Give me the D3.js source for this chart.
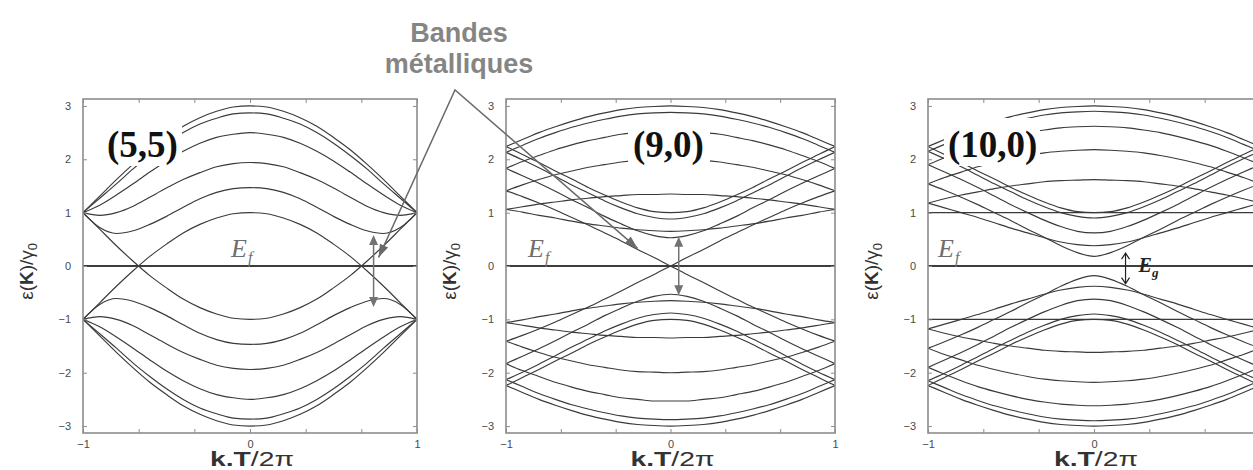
<!DOCTYPE html>
<html><head><meta charset="utf-8">
<script src="https://cdn.jsdelivr.net/npm/d3@7"></script>
<style>body{margin:0;background:#fff}svg{display:block}</style>
</head><body><svg id="c" width="1253" height="470"></svg>
<script>
// ---------- data ----------
const kGrid = [-1,-0.9,-0.8,-0.7,-0.6,-0.5,-0.4,-0.3,-0.2,-0.1,0,0.1,0.2,0.3,0.4,0.5,0.6,0.7,0.8,0.9,1];
const yTickValues = [-3,-2,-1,0,1,2,3];
const xTickValues = [-1,-0.6667,-0.3333,0,0.3333,0.6667,1];
const xLabelValues = [-1,0,1];
const panelTitles = ["(5,5)","(9,0)","(10,0)"];
const annotationText = ["Bandes","métalliques"];

// (5,5) armchair
const bands55Upper = [
 [1.00,1.31,1.62,1.91,2.18,2.41,2.62,2.78,2.90,2.98,3.00,2.98,2.90,2.78,2.62,2.41,2.18,1.91,1.62,1.31,1.00],
 [1.00,1.27,1.54,1.82,2.07,2.30,2.50,2.66,2.77,2.85,2.87,2.85,2.77,2.66,2.50,2.30,2.07,1.82,1.54,1.27,1.00],
 [1.00,1.14,1.33,1.54,1.76,1.97,2.15,2.30,2.41,2.47,2.50,2.47,2.41,2.30,2.15,1.97,1.76,1.54,1.33,1.14,1.00],
 [1.00,0.95,1.00,1.12,1.29,1.46,1.62,1.75,1.86,1.92,1.94,1.92,1.86,1.75,1.62,1.46,1.29,1.12,1.00,0.95,1.00],
 [1.00,0.72,0.61,0.66,0.78,0.93,1.10,1.26,1.38,1.45,1.47,1.45,1.38,1.26,1.10,0.93,0.78,0.66,0.61,0.72,1.00]
];
const bands55Lower = [
 [-1.00,-1.31,-1.62,-1.91,-2.18,-2.41,-2.62,-2.78,-2.90,-2.98,-3.00,-2.98,-2.90,-2.78,-2.62,-2.41,-2.18,-1.91,-1.62,-1.31,-1.00],
 [-1.00,-1.27,-1.54,-1.82,-2.07,-2.30,-2.50,-2.66,-2.77,-2.85,-2.87,-2.85,-2.77,-2.66,-2.50,-2.30,-2.07,-1.82,-1.54,-1.27,-1.00],
 [-1.00,-1.14,-1.33,-1.54,-1.76,-1.97,-2.15,-2.30,-2.41,-2.47,-2.50,-2.47,-2.41,-2.30,-2.15,-1.97,-1.76,-1.54,-1.33,-1.14,-1.00],
 [-1.00,-0.95,-1.00,-1.12,-1.29,-1.46,-1.62,-1.75,-1.86,-1.92,-1.94,-1.92,-1.86,-1.75,-1.62,-1.46,-1.29,-1.12,-1.00,-0.95,-1.00],
 [-1.00,-0.72,-0.61,-0.66,-0.78,-0.93,-1.10,-1.26,-1.38,-1.45,-1.47,-1.45,-1.38,-1.26,-1.10,-0.93,-0.78,-0.66,-0.61,-0.72,-1.00]
];
const bands55Crossing = [
 [1.00,0.69,0.38,0.09,-0.18,-0.41,-0.62,-0.78,-0.90,-0.98,-1.00,-0.98,-0.90,-0.78,-0.62,-0.41,-0.18,0.09,0.38,0.69,1.00],
 [-1.00,-0.69,-0.38,-0.09,0.18,0.41,0.62,0.78,0.90,0.98,1.00,0.98,0.90,0.78,0.62,0.41,0.18,-0.09,-0.38,-0.69,-1.00]
];

// (9,0) zigzag
const bands90Upper = [
 [2.24,2.37,2.50,2.61,2.71,2.80,2.87,2.93,2.97,2.99,3.00,2.99,2.97,2.93,2.87,2.80,2.71,2.61,2.50,2.37,2.24],
 [2.13,2.26,2.39,2.50,2.60,2.68,2.75,2.81,2.85,2.87,2.88,2.87,2.85,2.81,2.75,2.68,2.60,2.50,2.39,2.26,2.13],
 [1.83,1.96,2.07,2.18,2.27,2.35,2.41,2.47,2.50,2.53,2.53,2.53,2.50,2.47,2.41,2.35,2.27,2.18,2.07,1.96,1.83],
 [1.41,1.52,1.62,1.71,1.78,1.85,1.90,1.95,1.98,1.99,2.00,1.99,1.98,1.95,1.90,1.85,1.78,1.71,1.62,1.52,1.41],
 [1.06,1.11,1.16,1.20,1.24,1.27,1.30,1.32,1.34,1.34,1.35,1.34,1.34,1.32,1.30,1.27,1.24,1.20,1.16,1.11,1.06],
 [1.06,1.01,0.95,0.90,0.84,0.79,0.75,0.71,0.68,0.66,0.65,0.66,0.68,0.71,0.75,0.79,0.84,0.90,0.95,1.01,1.06],
 [1.83,1.69,1.55,1.40,1.24,1.09,0.93,0.79,0.66,0.57,0.53,0.57,0.66,0.79,0.93,1.09,1.24,1.40,1.55,1.69,1.83],
 [2.13,1.99,1.84,1.68,1.52,1.37,1.22,1.09,0.98,0.91,0.88,0.91,0.98,1.09,1.22,1.37,1.52,1.68,1.84,1.99,2.13],
 [2.24,2.09,1.94,1.78,1.63,1.47,1.33,1.20,1.09,1.02,1.00,1.02,1.09,1.20,1.33,1.47,1.63,1.78,1.94,2.09,2.24]
];
const bands90Lower = [
 [-2.24,-2.37,-2.50,-2.61,-2.71,-2.80,-2.87,-2.93,-2.97,-2.99,-3.00,-2.99,-2.97,-2.93,-2.87,-2.80,-2.71,-2.61,-2.50,-2.37,-2.24],
 [-2.13,-2.26,-2.39,-2.50,-2.60,-2.68,-2.75,-2.81,-2.85,-2.87,-2.88,-2.87,-2.85,-2.81,-2.75,-2.68,-2.60,-2.50,-2.39,-2.26,-2.13],
 [-1.83,-1.96,-2.07,-2.18,-2.27,-2.35,-2.41,-2.47,-2.50,-2.53,-2.53,-2.53,-2.50,-2.47,-2.41,-2.35,-2.27,-2.18,-2.07,-1.96,-1.83],
 [-1.41,-1.52,-1.62,-1.71,-1.78,-1.85,-1.90,-1.95,-1.98,-1.99,-2.00,-1.99,-1.98,-1.95,-1.90,-1.85,-1.78,-1.71,-1.62,-1.52,-1.41],
 [-1.06,-1.11,-1.16,-1.20,-1.24,-1.27,-1.30,-1.32,-1.34,-1.34,-1.35,-1.34,-1.34,-1.32,-1.30,-1.27,-1.24,-1.20,-1.16,-1.11,-1.06],
 [-1.06,-1.01,-0.95,-0.90,-0.84,-0.79,-0.75,-0.71,-0.68,-0.66,-0.65,-0.66,-0.68,-0.71,-0.75,-0.79,-0.84,-0.90,-0.95,-1.01,-1.06],
 [-1.83,-1.69,-1.55,-1.40,-1.24,-1.09,-0.93,-0.79,-0.66,-0.57,-0.53,-0.57,-0.66,-0.79,-0.93,-1.09,-1.24,-1.40,-1.55,-1.69,-1.83],
 [-2.13,-1.99,-1.84,-1.68,-1.52,-1.37,-1.22,-1.09,-0.98,-0.91,-0.88,-0.91,-0.98,-1.09,-1.22,-1.37,-1.52,-1.68,-1.84,-1.99,-2.13],
 [-2.24,-2.09,-1.94,-1.78,-1.63,-1.47,-1.33,-1.20,-1.09,-1.02,-1.00,-1.02,-1.09,-1.20,-1.33,-1.47,-1.63,-1.78,-1.94,-2.09,-2.24]
];
const bands90Crossing = [
 [1.41,1.30,1.18,1.05,0.91,0.77,0.62,0.47,0.31,0.16,0.00,-0.16,-0.31,-0.47,-0.62,-0.77,-0.91,-1.05,-1.18,-1.30,-1.41],
 [-1.41,-1.30,-1.18,-1.05,-0.91,-0.77,-0.62,-0.47,-0.31,-0.16,0.00,0.16,0.31,0.47,0.62,0.77,0.91,1.05,1.18,1.30,1.41]
];

// (10,0) zigzag
const bands100Upper = [
 [2.24,2.37,2.50,2.61,2.71,2.80,2.87,2.93,2.97,2.99,3.00,2.99,2.97,2.93,2.87,2.80,2.71,2.61,2.50,2.37,2.24],
 [2.15,2.28,2.41,2.52,2.62,2.70,2.77,2.83,2.87,2.89,2.90,2.89,2.87,2.83,2.77,2.70,2.62,2.52,2.41,2.28,2.15],
 [1.90,2.03,2.15,2.26,2.35,2.43,2.50,2.55,2.59,2.61,2.62,2.61,2.59,2.55,2.50,2.43,2.35,2.26,2.15,2.03,1.90],
 [1.54,1.66,1.76,1.86,1.94,2.01,2.07,2.12,2.15,2.17,2.18,2.17,2.15,2.12,2.07,2.01,1.94,1.86,1.76,1.66,1.54],
 [1.18,1.26,1.33,1.39,1.45,1.50,1.54,1.58,1.60,1.61,1.62,1.61,1.60,1.58,1.54,1.50,1.45,1.39,1.33,1.26,1.18],
 [1.00,1.00,1.00,1.00,1.00,1.00,1.00,1.00,1.00,1.00,1.00,1.00,1.00,1.00,1.00,1.00,1.00,1.00,1.00,1.00,1.00],
 [1.18,1.09,1.00,0.91,0.81,0.71,0.62,0.53,0.45,0.40,0.38,0.40,0.45,0.53,0.62,0.71,0.81,0.91,1.00,1.09,1.18],
 [1.54,1.42,1.29,1.15,1.00,0.85,0.69,0.54,0.38,0.25,0.18,0.25,0.38,0.54,0.69,0.85,1.00,1.15,1.29,1.42,1.54],
 [1.90,1.76,1.62,1.47,1.31,1.15,1.00,0.86,0.74,0.65,0.62,0.65,0.74,0.86,1.00,1.15,1.31,1.47,1.62,1.76,1.90],
 [2.15,2.01,1.86,1.70,1.54,1.39,1.24,1.11,1.00,0.93,0.90,0.93,1.00,1.11,1.24,1.39,1.54,1.70,1.86,2.01,2.15],
 [2.24,2.09,1.94,1.78,1.63,1.47,1.33,1.20,1.09,1.02,1.00,1.02,1.09,1.20,1.33,1.47,1.63,1.78,1.94,2.09,2.24]
];
const bands100Lower = [
 [-2.24,-2.37,-2.50,-2.61,-2.71,-2.80,-2.87,-2.93,-2.97,-2.99,-3.00,-2.99,-2.97,-2.93,-2.87,-2.80,-2.71,-2.61,-2.50,-2.37,-2.24],
 [-2.15,-2.28,-2.41,-2.52,-2.62,-2.70,-2.77,-2.83,-2.87,-2.89,-2.90,-2.89,-2.87,-2.83,-2.77,-2.70,-2.62,-2.52,-2.41,-2.28,-2.15],
 [-1.90,-2.03,-2.15,-2.26,-2.35,-2.43,-2.50,-2.55,-2.59,-2.61,-2.62,-2.61,-2.59,-2.55,-2.50,-2.43,-2.35,-2.26,-2.15,-2.03,-1.90],
 [-1.54,-1.66,-1.76,-1.86,-1.94,-2.01,-2.07,-2.12,-2.15,-2.17,-2.18,-2.17,-2.15,-2.12,-2.07,-2.01,-1.94,-1.86,-1.76,-1.66,-1.54],
 [-1.18,-1.26,-1.33,-1.39,-1.45,-1.50,-1.54,-1.58,-1.60,-1.61,-1.62,-1.61,-1.60,-1.58,-1.54,-1.50,-1.45,-1.39,-1.33,-1.26,-1.18],
 [-1.00,-1.00,-1.00,-1.00,-1.00,-1.00,-1.00,-1.00,-1.00,-1.00,-1.00,-1.00,-1.00,-1.00,-1.00,-1.00,-1.00,-1.00,-1.00,-1.00,-1.00],
 [-1.18,-1.09,-1.00,-0.91,-0.81,-0.71,-0.62,-0.53,-0.45,-0.40,-0.38,-0.40,-0.45,-0.53,-0.62,-0.71,-0.81,-0.91,-1.00,-1.09,-1.18],
 [-1.54,-1.42,-1.29,-1.15,-1.00,-0.85,-0.69,-0.54,-0.38,-0.25,-0.18,-0.25,-0.38,-0.54,-0.69,-0.85,-1.00,-1.15,-1.29,-1.42,-1.54],
 [-1.90,-1.76,-1.62,-1.47,-1.31,-1.15,-1.00,-0.86,-0.74,-0.65,-0.62,-0.65,-0.74,-0.86,-1.00,-1.15,-1.31,-1.47,-1.62,-1.76,-1.90],
 [-2.15,-2.01,-1.86,-1.70,-1.54,-1.39,-1.24,-1.11,-1.00,-0.93,-0.90,-0.93,-1.00,-1.11,-1.24,-1.39,-1.54,-1.70,-1.86,-2.01,-2.15],
 [-2.24,-2.09,-1.94,-1.78,-1.63,-1.47,-1.33,-1.20,-1.09,-1.02,-1.00,-1.02,-1.09,-1.20,-1.33,-1.47,-1.63,-1.78,-1.94,-2.09,-2.24]
];

// ---------- drawing ----------
const svg = d3.select("#c");
const defs = svg.append("defs");
const y = d3.scaleLinear().domain([-3.13, 3.13]).range([433, 99]);
const minus = v => (v < 0 ? "\u2212" + Math.abs(v) : String(v));

const panels = [
  {id: 0, left: 83, right: 417, bands: [...bands55Upper, ...bands55Lower, ...bands55Crossing],
   box: [102, 121, 80, 45], titleX: 107, ef: [231, 257], xLabels: xLabelValues},
  {id: 1, left: 506, right: 835, bands: [...bands90Upper, ...bands90Lower, ...bands90Crossing],
   box: [628, 127, 82, 39], titleX: 633, ef: [528, 257], xLabels: xLabelValues},
  {id: 2, left: 928, right: 1260, bands: [...bands100Upper, ...bands100Lower],
   box: [944, 118, 96, 48], titleX: 948, ef: [938, 257], xLabels: xLabelValues.slice(0, 2)}
];

panels.forEach(p => {
  const x = d3.scaleLinear().domain([-1, 1]).range([p.left, p.right]);
  p.x = x;
  const clipId = "clip" + p.id;
  defs.append("clipPath").attr("id", clipId).append("rect")
    .attr("x", p.left).attr("y", y.range()[1])
    .attr("width", p.right - p.left).attr("height", y.range()[0] - y.range()[1]);

  const g = svg.append("g");
  const plot = g.append("g").attr("clip-path", `url(#${clipId})`);
  const line = d3.line().x((d, i) => x(kGrid[i])).y(d => y(d)).curve(d3.curveMonotoneX);
  plot.selectAll("path.band").data(p.bands).join("path")
    .attr("class", "band").attr("d", line)
    .attr("fill", "none").attr("stroke", "#3a3a3a").attr("stroke-width", 1.15);

  // Fermi level line
  plot.append("line").attr("x1", x(-1)).attr("x2", x(1)).attr("y1", y(0)).attr("y2", y(0))
    .attr("stroke", "#3d3d3d").attr("stroke-width", 2);

  // title with white box
  g.append("rect").attr("x", p.box[0]).attr("y", p.box[1]).attr("width", p.box[2]).attr("height", p.box[3])
    .attr("fill", "#fff");
  g.append("text").attr("x", p.titleX).attr("y", 157)
    .attr("font-family", "'Liberation Serif','DejaVu Serif',serif").attr("font-weight", "bold")
    .attr("font-size", 37).attr("fill", "#111").text(panelTitles[p.id]);

  // E_f label
  const ef = g.append("text").attr("x", p.ef[0]).attr("y", p.ef[1])
    .attr("font-family", "'Liberation Serif','DejaVu Serif',serif").attr("font-style", "italic")
    .attr("fill", "#6e6e6e");
  ef.append("tspan").attr("font-size", 26).text("E");
  ef.append("tspan").attr("font-size", 16).attr("dx", 1).attr("dy", 6).text("f");

  // frame
  g.append("rect").attr("x", p.left).attr("y", y.range()[1])
    .attr("width", p.right - p.left).attr("height", y.range()[0] - y.range()[1])
    .attr("fill", "none").attr("stroke", "#8c8c8c").attr("stroke-width", 1.6);

  const tickStyle = sel => {
    sel.select(".domain").remove();
    sel.selectAll(".tick line").attr("stroke", "#8c8c8c").attr("stroke-width", 1);
    sel.selectAll(".tick text").attr("fill", "#4a4a4a")
      .attr("font-family", "'Liberation Sans',Arial,sans-serif").attr("font-size", 11);
  };
  g.append("g").attr("transform", `translate(${p.left},0)`)
    .call(d3.axisLeft(y).tickValues(yTickValues).tickSize(-4).tickPadding(12).tickFormat(minus)).call(tickStyle);
  g.append("g").attr("transform", `translate(${p.right},0)`)
    .call(d3.axisRight(y).tickValues(yTickValues).tickSize(-4).tickFormat("")).call(tickStyle);
  g.append("g").attr("transform", `translate(0,${y.range()[0]})`)
    .call(d3.axisBottom(x).tickValues(xTickValues).tickSize(-4).tickPadding(7)
      .tickFormat(d => (p.xLabels.some(v => Math.abs(v - d) < 1e-6) ? minus(d) : ""))).call(tickStyle);
  g.append("g").attr("transform", `translate(0,${y.range()[1]})`)
    .call(d3.axisTop(x).tickValues(xTickValues).tickSize(-4).tickFormat("")).call(tickStyle);

  // axis titles
  const yl = g.append("text")
    .attr("transform", `translate(${p.left - 50},${y(-0.1)}) rotate(-90)`)
    .attr("text-anchor", "middle").attr("font-family", "'Liberation Sans',Arial,sans-serif")
    .attr("font-size", 19).attr("fill", "#333");
  yl.append("tspan").text("\u03b5(");
  yl.append("tspan").attr("font-weight", "bold").text("K");
  yl.append("tspan").text(")/\u03b3");
  yl.append("tspan").attr("font-size", 13).attr("dy", 4).text("0");

  const xl = g.append("text").attr("x", x(0) + 2).attr("y", 466).attr("text-anchor", "middle")
    .attr("font-family", "'Liberation Sans',Arial,sans-serif").attr("font-size", 20).attr("fill", "#333")
    .attr("textLength", 84).attr("lengthAdjust", "spacingAndGlyphs");
  xl.append("tspan").attr("font-weight", "bold").text("k.T");
  xl.append("tspan").text("/2\u03c0");
});

// arrowheads
function head(tipX, tipY, fromX, fromY, len, wid, color) {
  const a = Math.atan2(tipY - fromY, tipX - fromX);
  const bx = tipX - len * Math.cos(a), by = tipY - len * Math.sin(a);
  const nx = -Math.sin(a) * wid / 2, ny = Math.cos(a) * wid / 2;
  svg.append("path").attr("d", `M${tipX},${tipY}L${bx + nx},${by + ny}L${bx - nx},${by - ny}Z`).attr("fill", color);
}
function dblArrow(px, y1, y2, color, w) {
  svg.append("line").attr("x1", px).attr("x2", px).attr("y1", y1 + 6).attr("y2", y2 - 6)
    .attr("stroke", color).attr("stroke-width", w);
  head(px, y1, px, y2, 10, 9, color);
  head(px, y2, px, y1, 10, 9, color);
}
const P1 = panels[0], P2 = panels[1], P3 = panels[2];
dblArrow(P1.x(0.74), y(0.58), y(-0.77), "#727272", 1.5);
dblArrow(P2.x(0.05), y(0.55), y(-0.55), "#727272", 1.5);

// E_g arrow (open heads)
{
  const px = P3.x(0.19), y1 = y(0.24), y2 = y(-0.33);
  svg.append("line").attr("x1", px).attr("x2", px).attr("y1", y1).attr("y2", y2).attr("stroke", "#222").attr("stroke-width", 1.2);
  svg.append("path").attr("d", `M${px - 4},${y1 + 6}L${px},${y1}L${px + 4},${y1 + 6}M${px - 4},${y2 - 6}L${px},${y2}L${px + 4},${y2 - 6}`)
    .attr("fill", "none").attr("stroke", "#222").attr("stroke-width", 1.2);
  const eg = svg.append("text").attr("x", px + 13).attr("y", y(-0.12))
    .attr("font-family", "'Liberation Serif','DejaVu Serif',serif").attr("font-style", "italic")
    .attr("font-weight", "bold").attr("fill", "#222");
  eg.append("tspan").attr("font-size", 20).text("E");
  eg.append("tspan").attr("font-size", 13).attr("dx", 0).attr("dy", 5).text("g");
}

// annotation "Bandes métalliques"
const apex = [455, 90];
const tipA = [P1.x(0.77), y(0.16)];
const tipB = [P2.x(-0.2), y(0.33)];
svg.append("path").attr("d", `M${tipA[0]},${tipA[1]}L${apex[0]},${apex[1]}L${tipB[0]},${tipB[1]}`)
  .attr("fill", "none").attr("stroke", "#6a6a6a").attr("stroke-width", 1.5);
head(tipA[0], tipA[1], apex[0], apex[1], 13, 9, "#6a6a6a");
head(tipB[0], tipB[1], apex[0], apex[1], 13, 9, "#6a6a6a");
svg.selectAll("text.annot").data(annotationText).join("text").attr("class", "annot")
  .attr("x", 459).attr("y", (d, i) => 42 + i * 31).attr("text-anchor", "middle")
  .attr("font-family", "'Liberation Sans',Arial,sans-serif").attr("font-weight", "bold")
  .attr("font-size", 27).attr("fill", "#858585").text(d => d);
</script></body></html>
